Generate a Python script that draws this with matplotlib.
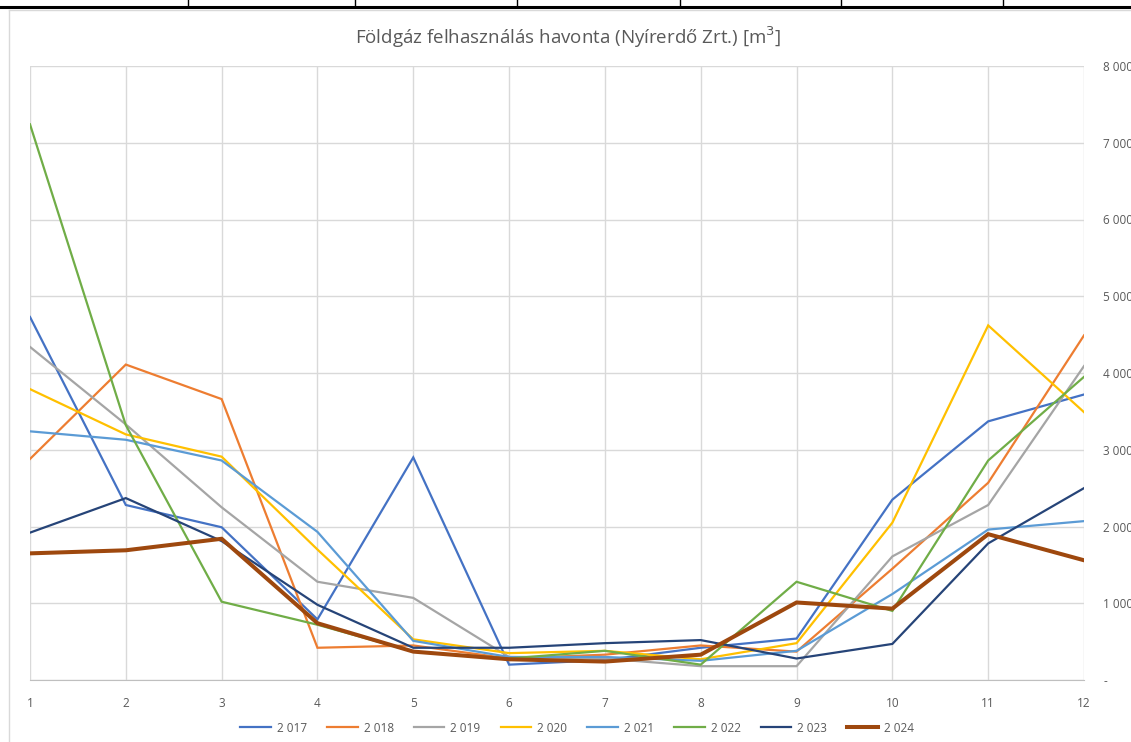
import matplotlib.pyplot as plt
import matplotlib.ticker as mticker
from matplotlib.lines import Line2D

# monthly gas use, m3
months = list(range(1, 13))
years = ["2 017", "2 018", "2 019", "2 020", "2 021", "2 022", "2 023", "2 024"]
v2017 = [4730, 2280, 1990, 790, 2900, 200, 260, 420, 540, 2350, 3370, 3720]
v2018 = [2880, 4110, 3660, 420, 450, 280, 330, 450, 370, 1450, 2570, 4490]
v2019 = [4340, 3330, 2250, 1280, 1070, 300, 280, 180, 180, 1610, 2280, 4090]
v2020 = [3790, 3200, 2910, 1700, 530, 350, 380, 270, 480, 2050, 4620, 3490]
v2021 = [3240, 3130, 2860, 1930, 510, 300, 300, 250, 380, 1120, 1960, 2070]
v2022 = [7240, 3320, 1020, 720, 370, 280, 380, 200, 1280, 900, 2860, 3950]
v2023 = [1920, 2370, 1810, 980, 420, 420, 480, 520, 280, 470, 1780, 2500]
v2024 = [1650, 1690, 1840, 740, 370, 270, 240, 330, 1010, 930, 1900, 1560]
series = [v2017, v2018, v2019, v2020, v2021, v2022, v2023, v2024]
colors = ["#4472C4", "#ED7D31", "#A5A5A5", "#FFC000", "#5B9BD5", "#70AD47", "#264478", "#9E480E"]
y_ticks = [0, 1000, 2000, 3000, 4000, 5000, 6000, 7000, 8000]

W, H = 1131, 742
plt.rcParams['font.family'] = ['Open Sans', 'DejaVu Sans']
fig = plt.figure(figsize=(W / 100, H / 100), dpi=100)
fig.patch.set_facecolor('white')

# spreadsheet row above the chart
fig.add_artist(Line2D([0, 1], [1 - 7 / H, 1 - 7 / H], color='black', lw=2.2, transform=fig.transFigure))
for xb in [188, 355, 517, 680, 841, 1003]:
    fig.add_artist(Line2D([xb / W, xb / W], [1 - 6 / H, 1], color='black', lw=1, transform=fig.transFigure))
# chart frame
fig.add_artist(Line2D([9 / W, 9 / W], [0, 1 - 10 / H], color='#D9D9D9', lw=1, transform=fig.transFigure))
fig.add_artist(Line2D([9 / W, 1], [1 - 10 / H, 1 - 10 / H], color='#D9D9D9', lw=1, transform=fig.transFigure))

ax = fig.add_axes([30 / W, (H - 680) / H, (1084 - 30) / W, (680 - 66) / H])
for vals, col, lab in zip(series, colors, years):
    lw = 2.9 if lab == "2 024" else 1.6
    ax.plot(months, vals, color=col, lw=lw, label=lab, solid_joinstyle='miter')

ax.set_xlim(1, 12)
ax.set_ylim(0, 8000)
ax.set_xticks(months)
ax.set_yticks(y_ticks)
ax.yaxis.tick_right()
ax.yaxis.set_major_formatter(mticker.FuncFormatter(
    lambda v, p: "-" if v == 0 else f"{int(v):,}".replace(",", " ")))
ax.tick_params(axis='both', length=0, labelsize=8.5, colors='#595959')
ax.tick_params(axis='x', pad=12)
ax.tick_params(axis='y', pad=14)
for lbl in ax.get_yticklabels():
    lbl.set_horizontalalignment('left')
ax.grid(True, color='#D9D9D9', lw=1)
ax.set_axisbelow(True)
for s in ['top', 'right', 'left']:
    ax.spines[s].set_visible(False)
ax.spines['bottom'].set_color('#BFBFBF')

fig.text(568 / W, 1 - 37 / H, "Földgáz felhasználás havonta (Nyírerdő Zrt.) [m$^3$]",
         ha='center', va='center', fontsize=13.5, color='#595959')

ax.legend(loc='center', bbox_to_anchor=(577 / W, 1 - 728 / H), bbox_transform=fig.transFigure,
          ncol=8, frameon=False, fontsize=8.5, labelcolor='#595959', handlelength=2.6,
          columnspacing=1.7, handletextpad=0.5)

fig.savefig("out.png", dpi=100)
